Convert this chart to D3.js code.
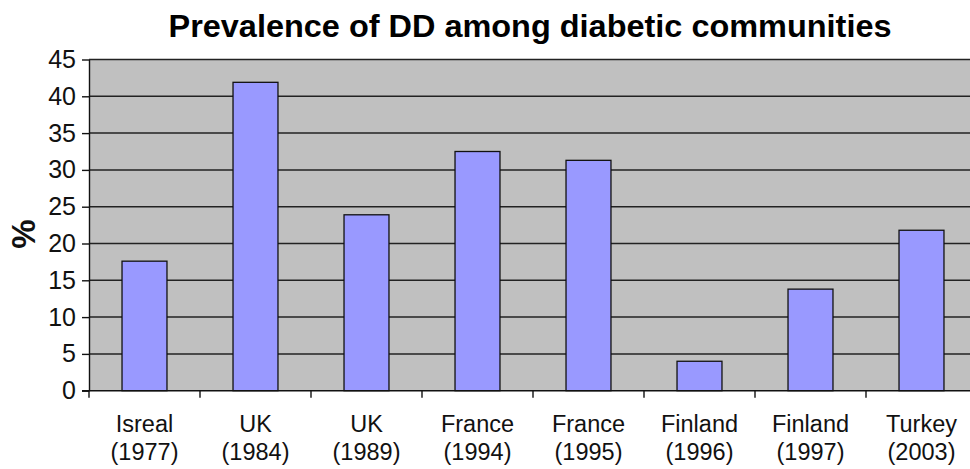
<!DOCTYPE html>
<html>
<head>
<meta charset="utf-8">
<script src="https://cdn.jsdelivr.net/npm/d3@7"></script>
<style>
  html, body { margin: 0; padding: 0; background: #fff; }
  svg { display: block; font-family: "Liberation Sans", Arial, sans-serif; }
</style>
</head>
<body>
<svg id="chart" width="970" height="469"></svg>
<script>
// ── data ────────────────────────────────────────────────
const countries = ['Isreal', 'UK', 'UK', 'France', 'France', 'Finland', 'Finland', 'Turkey'];
const years     = ['(1977)', '(1984)', '(1989)', '(1994)', '(1995)', '(1996)', '(1997)', '(2003)'];
const prevalence = [17.6, 41.9, 23.9, 32.5, 31.3, 4.0, 13.8, 21.8];
const yTicks = [0, 5, 10, 15, 20, 25, 30, 35, 40, 45];

// ── layout ──────────────────────────────────────────────
const svg = d3.select('#chart');
const plot = { left: 89, top: 59.5, right: 977, bottom: 390.7 };

const x = d3.scaleBand()
  .domain(d3.range(countries.length))
  .range([plot.left, plot.right])
  .paddingInner(0.595)
  .paddingOuter(0.2975);

const y = d3.scaleLinear().domain([0, 45]).range([plot.bottom, plot.top]);

// plot background
svg.append('rect')
  .attr('x', plot.left).attr('y', plot.top)
  .attr('width', plot.right - plot.left)
  .attr('height', plot.bottom - plot.top)
  .attr('fill', '#c0c0c0');

// gridlines
svg.append('g')
  .selectAll('line')
  .data(yTicks.filter(d => d > 0))
  .enter().append('line')
    .attr('x1', plot.left).attr('x2', plot.right)
    .attr('y1', d => y(d)).attr('y2', d => y(d))
    .attr('stroke', '#222').attr('stroke-width', 1.5);

// bars
svg.append('g')
  .selectAll('rect')
  .data(prevalence)
  .enter().append('rect')
    .attr('x', (d, i) => x(i))
    .attr('y', d => y(d))
    .attr('width', x.bandwidth())
    .attr('height', d => y(0) - y(d))
    .attr('fill', '#9999ff')
    .attr('stroke', '#111')
    .attr('stroke-width', 1.3);

// ── y axis ──────────────────────────────────────────────
const yAxis = svg.append('g')
  .attr('transform', `translate(${plot.left},0)`)
  .call(d3.axisLeft(y).tickValues(yTicks).tickSize(7).tickPadding(6).tickSizeOuter(0));
yAxis.select('.domain').attr('stroke', '#111').attr('stroke-width', 1.4);
yAxis.selectAll('.tick line').attr('stroke', '#111').attr('stroke-width', 1.4);
yAxis.selectAll('.tick text')
  .attr('font-size', 25)
  .attr('fill', '#111')
  .attr('font-family', '"Liberation Sans", Arial, sans-serif');

// ── x axis ──────────────────────────────────────────────
const step = x.step();
const xAxis = svg.append('g');
xAxis.append('line')
  .attr('x1', plot.left - 7).attr('x2', plot.right)
  .attr('y1', plot.bottom).attr('y2', plot.bottom)
  .attr('stroke', '#111').attr('stroke-width', 1.4);
xAxis.selectAll('.xtick')
  .data(d3.range(countries.length))
  .enter().append('line')
    .attr('class', 'xtick')
    .attr('x1', i => plot.left + i * step).attr('x2', i => plot.left + i * step)
    .attr('y1', plot.bottom).attr('y2', plot.bottom + 7)
    .attr('stroke', '#111').attr('stroke-width', 1.4);

const labels = xAxis.selectAll('.xlabel')
  .data(d3.range(countries.length))
  .enter().append('text')
    .attr('class', 'xlabel')
    .attr('text-anchor', 'middle')
    .attr('font-size', 23.5)
    .attr('fill', '#111');
labels.append('tspan').attr('x', i => x(i) + x.bandwidth() / 2).attr('y', 431.5).text(i => countries[i]);
labels.append('tspan').attr('x', i => x(i) + x.bandwidth() / 2).attr('y', 460).text(i => years[i]);

// ── y label ─────────────────────────────────────────────
svg.append('text')
  .attr('transform', 'translate(35,234) rotate(-90)')
  .attr('text-anchor', 'middle')
  .attr('font-size', 33)
  .attr('font-weight', 'bold')
  .attr('fill', '#111')
  .text('%');

// ── title ───────────────────────────────────────────────
svg.append('text')
  .attr('x', 530)
  .attr('y', 37)
  .attr('text-anchor', 'middle')
  .attr('font-size', 31)
  .attr('font-weight', 'bold')
  .attr('fill', '#000')
  .attr('textLength', 723)
  .attr('lengthAdjust', 'spacingAndGlyphs')
  .text('Prevalence of DD among diabetic communities');
</script>
</body>
</html>
